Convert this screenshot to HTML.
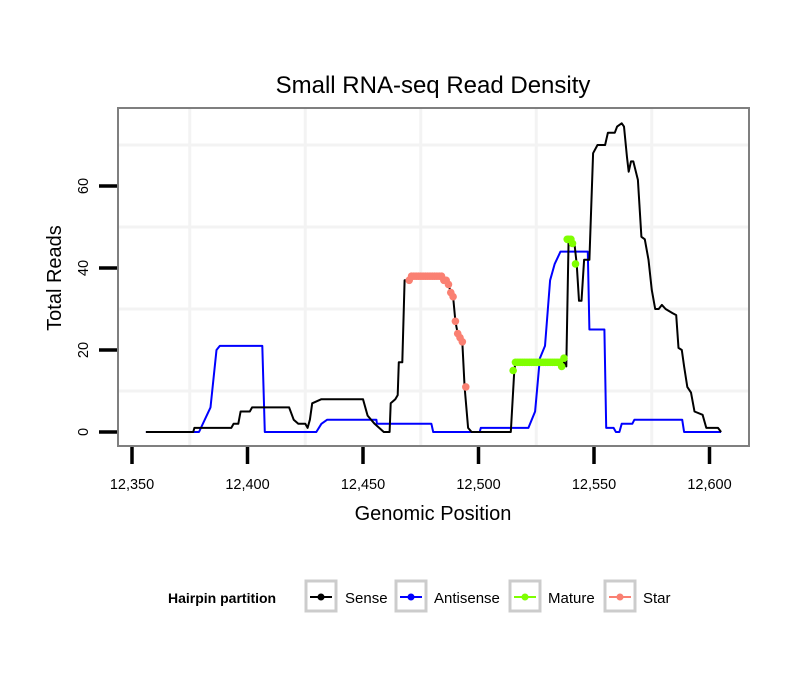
<!DOCTYPE html>
<html><head><meta charset="utf-8"><style>
body{margin:0;background:#fff;font-family:"Liberation Sans",sans-serif}
svg text{font-family:"Liberation Sans",sans-serif}
</style></head><body>
<svg id="chart" width="810" height="690" xmlns="http://www.w3.org/2000/svg">
<rect width="810" height="690" fill="#fff"/>
<text x="433" y="93" font-size="24" text-anchor="middle">Small RNA-seq Read Density</text>
<g id="grid"></g>
<g id="series"></g>
<rect x="118" y="108" width="631" height="338" fill="none" stroke="#7f7f7f" stroke-width="2"/>
<g id="axes"></g>
<text x="433" y="520" font-size="20" text-anchor="middle">Genomic Position</text>
<text transform="translate(61,278) rotate(-90)" font-size="20" text-anchor="middle">Total Reads</text>
<g>
<text x="168" y="603" font-size="14" font-weight="bold">Hairpin partition</text>
<g><rect x="306" y="581" width="30" height="30" fill="#fff" stroke="#cccccc" stroke-width="3"/><line x1="310" y1="597" x2="332" y2="597" stroke="#000" stroke-width="2"/><circle cx="321" cy="597" r="3.5" fill="#000"/><text x="345" y="603" font-size="15">Sense</text></g>
<g><rect x="396" y="581" width="30" height="30" fill="#fff" stroke="#cccccc" stroke-width="3"/><line x1="400" y1="597" x2="422" y2="597" stroke="#0000ff" stroke-width="2"/><circle cx="411" cy="597" r="3.5" fill="#0000ff"/><text x="434" y="603" font-size="15">Antisense</text></g>
<g><rect x="510" y="581" width="30" height="30" fill="#fff" stroke="#cccccc" stroke-width="3"/><line x1="514" y1="597" x2="536" y2="597" stroke="#7fff00" stroke-width="2"/><circle cx="525" cy="597" r="3.5" fill="#7fff00"/><text x="548" y="603" font-size="15">Mature</text></g>
<g><rect x="605" y="581" width="30" height="30" fill="#fff" stroke="#cccccc" stroke-width="3"/><line x1="609" y1="597" x2="631" y2="597" stroke="#fa8072" stroke-width="2"/><circle cx="620" cy="597" r="3.5" fill="#fa8072"/><text x="643" y="603" font-size="15">Star</text></g>
</g>
</svg>
<script>
const xTicks=[12350,12400,12450,12500,12550,12600];
const xTickLabels=["12,350","12,400","12,450","12,500","12,550","12,600"];
const yTicks=[0,20,40,60];
const yTickLabels=["0","20","40","60"];
const xGrid=[12375,12425,12475,12525,12575];
const yGrid=[10,30,50,70];
const sensePos=[12356,12376.5,12377,12393,12394,12396,12397,12401,12402,12418,12420,12422,12425,12426,12427,12428,12432,12450,12452,12455,12457,12459,12461.5,12462,12464,12465,12465.5,12467,12468,12470,12471,12484,12485,12487,12488,12489,12490,12491,12492,12493,12494,12495.5,12497,12514,12515.5,12516,12537,12538,12539,12541.5,12542.5,12543.5,12544.6,12545.7,12548,12549.6,12551.5,12554.8,12556,12559,12560,12562,12563,12564.3,12565,12566,12567,12569,12570.5,12572,12573.6,12575,12576.5,12578,12579.4,12581,12584,12585.6,12586.6,12588,12589,12590.4,12592,12593.5,12597,12598.6,12603.7,12605];
const senseVal=[0,0,1,1,2,2,5,5,6,6,3,2,2,1,3,7,8,8,4,2,1,0,0,7,8,9,17,17,37,37,38,38,37,36,34,33,27,24,23,22,11,1,0,0,15,17,17,16,47,46,41,32,32,42,42,68,70,70,73,73,74.5,75.3,74.5,67,63.5,66,66,61.5,47.6,47,42,34.6,30,30,31,30,29,28.5,20.5,20,16,11,9.6,5,4.2,1,1,0];
const antiPos=[12356,12379,12384,12386.6,12388,12406.4,12407.5,12429.8,12432,12434.5,12455.8,12456,12479.6,12480.4,12500.5,12501,12521.6,12524.5,12526.6,12528.8,12531,12533,12535.5,12547.3,12548,12554.5,12555.3,12558.5,12559.5,12561,12562,12566.6,12567.5,12588.2,12589,12605];
const antiVal=[0,0,6,20,21,21,0,0,2,3,3,2,2,0,0,1,1,5,18,21,37,41,44,44,25,25,1,1,0,0,2,2,3,3,0,0];
const maturePos=[12515,12516,12517,12518,12519,12520,12521,12522,12523,12524,12525,12526,12527,12528,12529,12530,12531,12532,12533,12534,12535,12536,12537,12538.4,12539,12540,12540.7,12542];
const matureVal=[15,17,17,17,17,17,17,17,17,17,17,17,17,17,17,17,17,17,17,17,17,16,18,47,47,47,46,41];
const starPos=[12470,12471,12472,12473,12474,12475,12476,12477,12478,12479,12480,12481,12482,12483,12484,12485,12486,12487,12488,12489,12490,12491,12492,12493,12494.5];
const starVal=[37,38,38,38,38,38,38,38,38,38,38,38,38,38,38,37,37,36,34,33,27,24,23,22,11];

const NS="http://www.w3.org/2000/svg";
function sx(p){return 132+(p-12350)*2.31;}
function sy(v){return 432-v*4.1;}
function mk(tag,attrs,parent){const e=document.createElementNS(NS,tag);for(const k in attrs)e.setAttribute(k,attrs[k]);parent.appendChild(e);return e;}
const grid=document.getElementById('grid'),series=document.getElementById('series'),axes=document.getElementById('axes');
mk('rect',{x:118,y:108,width:631,height:338,fill:'#fff'},grid);
xGrid.forEach(g=>{const l=mk('line',{x1:sx(g),x2:sx(g),y1:108,y2:446,stroke:'#f3f3f3','stroke-width':3},grid);

});
yGrid.forEach(g=>{const l=mk('line',{x1:118,x2:749,y1:sy(g),y2:sy(g),stroke:'#f3f3f3','stroke-width':3},grid);

});
function line(pos,val,color,name){const d=pos.map((p,i)=>(i?'L':'M')+sx(p).toFixed(1)+','+sy(val[i]).toFixed(1)).join('');
const e=mk('path',{d:d,fill:'none',stroke:color,'stroke-width':2,'stroke-linejoin':'round'},series);

}
function pts(pos,val,color,name){pos.forEach((p,i)=>{const c=mk('circle',{cx:sx(p),cy:sy(val[i]),r:3.8,fill:color},series);

});}
line(antiPos,antiVal,'#0000ff','antisense-line');
line(sensePos,senseVal,'#000000','sense-line');
pts(maturePos,matureVal,'#7fff00','mature-point');
pts(starPos,starVal,'#fa8072','star-point');
xTicks.forEach((t,i)=>{const l=mk('line',{x1:sx(t),x2:sx(t),y1:447,y2:464,stroke:'#000','stroke-width':3.5},axes);


const tx=mk('text',{x:sx(t),y:489,'font-size':14.5,'text-anchor':'middle'},axes);tx.textContent=xTickLabels[i];

});
yTicks.forEach((t,i)=>{const l=mk('line',{x1:99,x2:117,y1:sy(t),y2:sy(t),stroke:'#000','stroke-width':3.5},axes);


const tx=mk('text',{transform:'translate(88,'+sy(t)+') rotate(-90)','font-size':14.5,'text-anchor':'middle'},axes);tx.textContent=yTickLabels[i];

});
</script>
</body></html>
